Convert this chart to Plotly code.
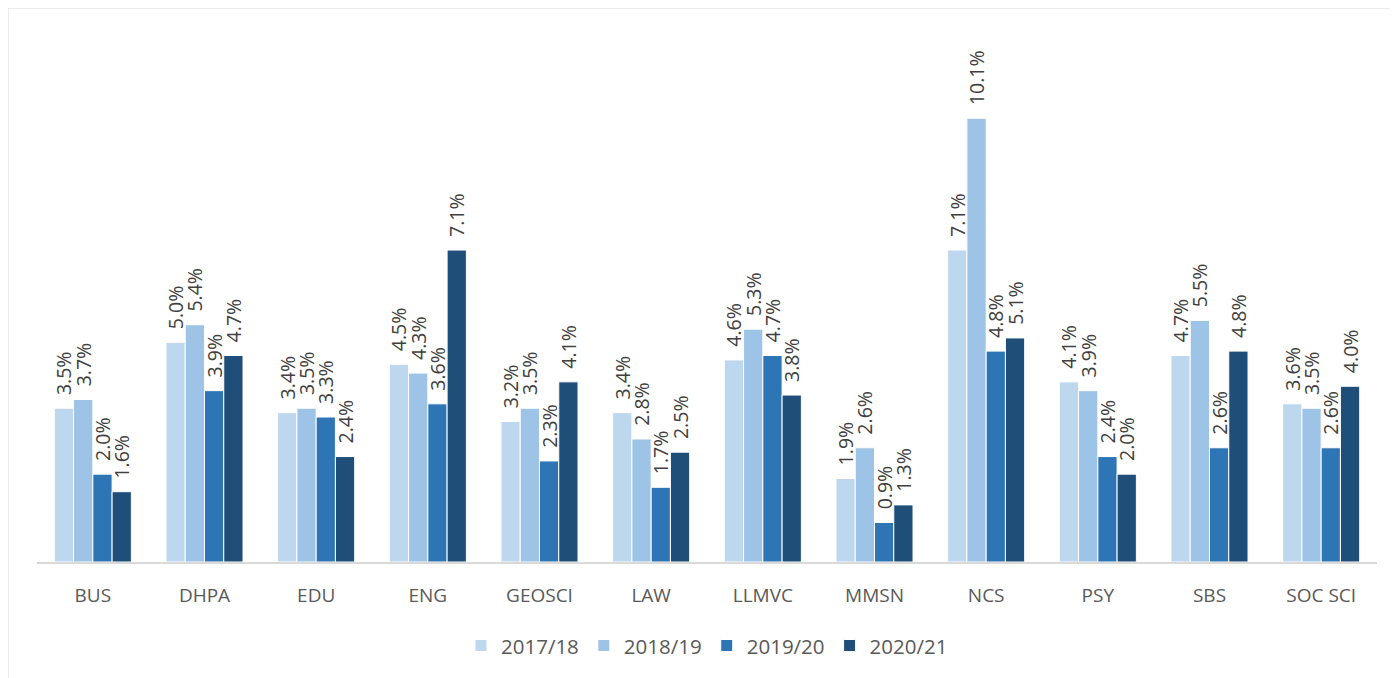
import plotly.graph_objects as go

categories = ["BUS", "DHPA", "EDU", "ENG", "GEOSCI", "LAW", "LLMVC", "MMSN", "NCS", "PSY", "SBS", "SOC SCI"]
series_names = ["2017/18", "2018/19", "2019/20", "2020/21"]
v_2017_18 = [3.5, 5.0, 3.4, 4.5, 3.2, 3.4, 4.6, 1.9, 7.1, 4.1, 4.7, 3.6]
v_2018_19 = [3.7, 5.4, 3.5, 4.3, 3.5, 2.8, 5.3, 2.6, 10.1, 3.9, 5.5, 3.5]
v_2019_20 = [2.0, 3.9, 3.3, 3.6, 2.3, 1.7, 4.7, 0.9, 4.8, 2.4, 2.6, 2.6]
v_2020_21 = [1.6, 4.7, 2.4, 7.1, 4.1, 2.5, 3.8, 1.3, 5.1, 2.0, 4.8, 4.0]
colors = ["#BDD7EE", "#9DC3E6", "#2E75B6", "#1F4E79"]

# page body has an 8px margin; figure placed at (8, 8)
OFF = 8
W, H = 1398 - OFF, 678 - OFF
L = 37 - OFF
T = 30 - OFF
R = W - (1377 - OFF)
B = H - (564 - OFF)

fig = go.Figure()
for name, vals, col in zip(series_names, [v_2017_18, v_2018_19, v_2019_20, v_2020_21], colors):
    fig.add_trace(go.Bar(
        name=name, x=categories, y=vals,
        marker=dict(color=col, line=dict(color="white", width=1)),
        text=vals,
        texttemplate="\u00a0\u00a0%{y:.1f}%",
        textposition="outside", textangle=-90,
        textfont=dict(family="Open Sans", size=19.5, color="#404040"),
        constraintext="none", cliponaxis=False,
        hoverinfo="skip",
    ))

plot_h = H - T - B
plot_w = W - L - R
fig.update_layout(
    width=W, height=H,
    margin=dict(l=L, r=R, t=T, b=B, pad=0),
    barmode="group", bargap=0.31, bargroupgap=0,
    plot_bgcolor="white", paper_bgcolor="white",
    font=dict(family="Open Sans", color="#595959"),
    xaxis=dict(showline=True, linecolor="#D9D9D9", linewidth=2, ticks="",
               tickfont=dict(size=19, color="#595959"), showgrid=False, ticklabelstandoff=15),
    yaxis=dict(range=[0, plot_h / 44.1], visible=False, showgrid=False, zeroline=False),
    legend=dict(orientation="h", x=0.5, xanchor="center", y=(564 - 648) / plot_h, yanchor="middle",
                font=dict(size=20.5, color="#595959"), itemwidth=30, traceorder="normal"),
    showlegend=True,
)

x_left = (7.5 - OFF - L) / plot_w
y_top = 1 + (T + 0.5) / plot_h
fig.add_shape(type="line", xref="paper", yref="paper", x0=x_left, x1=1 + R / plot_w + 0.01, y0=y_top, y1=y_top,
              line=dict(color="#D9D9D9", width=2))
fig.add_shape(type="line", xref="paper", yref="paper", x0=x_left, x1=x_left, y0=y_top, y1=-B / plot_h - 0.01,
              line=dict(color="#D9D9D9", width=2))

fig.write_html("out.html")
